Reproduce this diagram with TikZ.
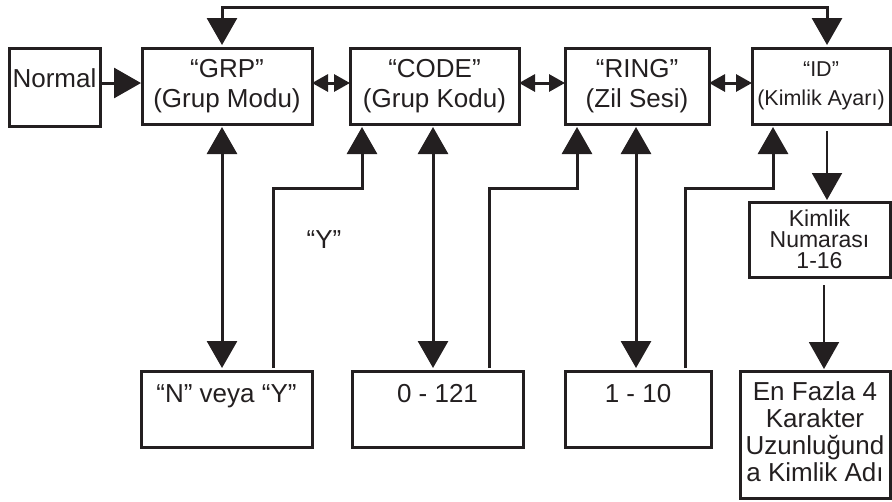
\documentclass[tikz,border=0pt]{standalone}
\usepackage{fontspec}
\setmainfont{Liberation Sans}
\usetikzlibrary{arrows.meta}
\definecolor{ink}{HTML}{231F20}
\begin{document}
\begin{tikzpicture}[x=1pt,y=-1pt,
  box/.style={draw=ink, line width=3pt, rectangle, inner sep=0pt, outer sep=0pt},
  txt/.style={text=ink, font=\fontsize{26}{30}\selectfont, align=center, inner sep=0pt},
  smalltxt/.style={text=ink, font=\fontsize{21.5}{29}\selectfont, align=center, inner sep=0pt},
  midtxt/.style={text=ink, font=\fontsize{23}{21}\selectfont, align=center, inner sep=0pt},
  conn/.style={draw=ink, line width=3pt},
  bigtip/.tip={Triangle[width=30pt,length=27pt]},
  smalltip/.tip={Triangle[width=17pt,length=16pt]},
  big/.style={conn, -bigtip, shorten >=3pt},
  dblbig/.style={conn, bigtip-bigtip, shorten >=3pt, shorten <=3pt},
  sdbl/.style={conn, smalltip-smalltip}]
\useasboundingbox (0,0) rectangle (892,501);

% main row
\node[box, minimum width=91, minimum height=78] (normal) at (54.5,87) {};
\node[txt, anchor=base] (normalt) at (54.5,87) {Normal};
\node[box, txt, minimum width=170, minimum height=76] (grp) at (227,86) {“GRP”\\(Grup Modu)};
\node[box, txt, minimum width=169, minimum height=76] (code) at (434.5,86) {“CODE”\\(Grup Kodu)};
\node[box, txt, minimum width=144, minimum height=76] (ring) at (637,86) {“RING”\\(Zil Sesi)};
\node[box, smalltxt, minimum width=138, minimum height=76] (id) at (821,86) {“ID”\\(Kimlik Ayarı)};

% right column
\node[box, midtxt, minimum width=141, minimum height=75] (kim) at (819.5,239.5) {Kimlik\\Numarası\\1-16};
\node[box, minimum width=150, minimum height=127] (last) at (815,434.5) {};
\node[text=ink, font=\fontsize{26}{27}\selectfont, align=center, inner sep=0pt, anchor=north] (lastt) at (815,381) {En Fazla 4\\Karakter\\Uzunluğund\\a Kimlik Adı};

% bottom row
\node[box, minimum width=171, minimum height=76] (nvy) at (226.5,409) {};
\node[txt, anchor=base] (nvyt) at (226.5,402) {“N” veya “Y”};
\node[box, minimum width=171, minimum height=76] (zero) at (437.5,409) {};
\node[txt, anchor=base] (zerot) at (437.5,402) {0 - 121};
\node[box, minimum width=146, minimum height=76] (one) at (638,409) {};
\node[txt, anchor=base] (onet) at (638,402) {1 - 10};

% label
\node[txt, anchor=base] (ylab) at (324,248) {“Y”};

% coordinates
\coordinate (ca) at (222,7);
\coordinate (cj) at (827,7);
\coordinate (ny) at (0,83);
\coordinate (yb) at (273,188);
\coordinate (yc) at (362,188);
\coordinate (cd) at (433,0);
\coordinate (eb) at (489,188);
\coordinate (ec) at (577,188);
\coordinate (cg) at (636,0);
\coordinate (hb) at (685,188);
\coordinate (hc) at (773,188);
\coordinate (ck) at (824,0);

% connectors
\draw[dblbig] (grp.north -| ca) -- (ca) -- (cj) -- (id.north -| cj);
\draw[big, shorten >=1pt] (normal.east |- ny) -- (grp.west |- ny);
\draw[sdbl] (grp.east |- ny) -- (code.west |- ny);
\draw[sdbl] (code.east |- ny) -- (ring.west |- ny);
\draw[sdbl] (ring.east |- ny) -- (id.west |- ny);

\draw[dblbig] (grp.south -| ca) -- (nvy.north -| ca);
\draw[big, shorten <=3pt] (nvy.north -| yb) -- (yb) -- (yc) -- (code.south -| yc);
\draw[dblbig] (code.south -| cd) -- (zero.north -| cd);
\draw[big, shorten <=3pt] (zero.north -| eb) -- (eb) -- (ec) -- (ring.south -| ec);
\draw[dblbig] (ring.south -| cg) -- (one.north -| cg);
\draw[big, shorten <=3pt] (one.north -| hb) -- (hb) -- (hc) -- (id.south -| hc);

\draw[big, line width=2pt, shorten <=7pt, shorten >=2pt] (id.south -| cj) -- (kim.north -| cj);
\draw[big, line width=2pt, shorten <=8pt, shorten >=2pt] (kim.south -| ck) -- (last.north -| ck);
\end{tikzpicture}
\end{document}
